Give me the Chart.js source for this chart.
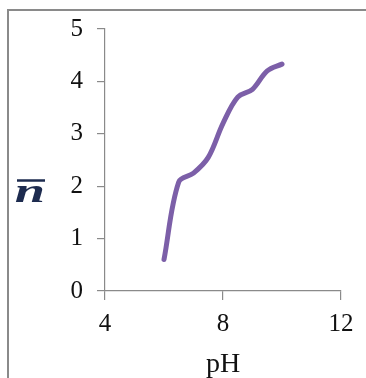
<!DOCTYPE html>
<html>
<head>
<meta charset="utf-8">
<script src="https://cdn.jsdelivr.net/npm/chart.js@4/dist/chart.umd.min.js"></script>
<style>
  html, body { margin: 0; padding: 0; background: #fff; }
  #wrap { position: relative; width: 366px; height: 378px; overflow: hidden; }
  #frame { position: absolute; left: 7px; top: 9px; width: 400px; height: 400px;
           border-top: 2px solid #8a8a8a; border-left: 2px solid #8a8a8a; }
  #chartJSContainer { position: absolute; left: 0; top: 0; }
</style>
</head>
<body>
<div id="wrap">
  <div id="frame"></div>
  <canvas id="chartJSContainer" width="366" height="378"></canvas>
</div>
<script>
// pH values and average ligand number (n bar)
var phValues = [6.0, 6.5, 7.0, 7.5, 8.0, 8.5, 9.0, 9.5, 10.0];
var nBar = [0.6, 2.08, 2.25, 2.55, 3.2, 3.7, 3.85, 4.2, 4.33];
var xTicks = [4, 8, 12];
var yLabel = 'n';
var xLabel = 'pH';

var serif = "'Liberation Serif', 'Times New Roman', serif";
var axisGray = '#8a8a8a';

var points = [];
phValues.forEach(function(ph, i) {
  points.push({ x: ph, y: nBar[i] });
});

// draws the italic n with a bar over it, left of the y axis
var nBarLabel = {
  id: 'nBarLabel',
  afterDraw: function(chart) {
    var ctx = chart.ctx;
    ctx.save();
    ctx.fillStyle = '#1d2b4f';
    ctx.strokeStyle = '#1d2b4f';
    ctx.lineWidth = 2.5;
    ctx.beginPath();
    ctx.moveTo(17, 180.5);
    ctx.lineTo(45, 180.5);
    ctx.stroke();
    ctx.translate(30, 202);
    ctx.scale(1.6, 1);
    ctx.font = 'italic bold 34px ' + serif;
    ctx.textAlign = 'center';
    ctx.textBaseline = 'alphabetic';
    ctx.fillText(yLabel, 0, 0);
    ctx.restore();
  }
};

var data = {
  datasets: [{
    data: points,
    showLine: true,
    borderColor: '#7c5fa8',
    backgroundColor: '#7c5fa8',
    borderWidth: 5,
    borderCapStyle: 'round',
    tension: 0.35,
    pointRadius: 0,
    pointHoverRadius: 0
  }]
};

const options = {
  type: 'scatter',
  data: data,
  options: {
    responsive: false,
    animation: false,
    events: [],
    layout: { padding: { top: 24, right: 25, left: 0, bottom: 0 } },
    plugins: {
      legend: { display: false },
      tooltip: { enabled: false }
    },
    scales: {
      x: {
        type: 'linear',
        min: 4,
        max: 12,
        afterBuildTicks: function(scale) {
          scale.ticks = xTicks.map(function(v) { return { value: v }; });
        },
        afterFit: function(scale) { scale.height = 87; },
        border: { color: axisGray, width: 1.2 },
        grid: { drawOnChartArea: false, color: axisGray, tickLength: 9, lineWidth: 1.2 },
        ticks: {
          color: '#111',
          padding: 9,
          maxRotation: 0,
          font: { family: serif, size: 25 }
        },
        title: {
          display: true,
          text: xLabel,
          color: '#111',
          padding: { top: 0, bottom: -3 },
          font: { family: serif, size: 28 }
        }
      },
      y: {
        min: 0,
        max: 5,
        afterFit: function(scale) { scale.width = 105; },
        border: { color: axisGray, width: 1.2 },
        grid: { drawOnChartArea: false, color: axisGray, tickLength: 8, lineWidth: 1.2 },
        ticks: {
          stepSize: 1,
          color: '#111',
          padding: 14,
          font: { family: serif, size: 25 }
        }
      }
    }
  },
  plugins: [nBarLabel]
};

const ctx = document.getElementById('chartJSContainer').getContext('2d');
const chart = new Chart(ctx, options);
</script>
</body>
</html>
